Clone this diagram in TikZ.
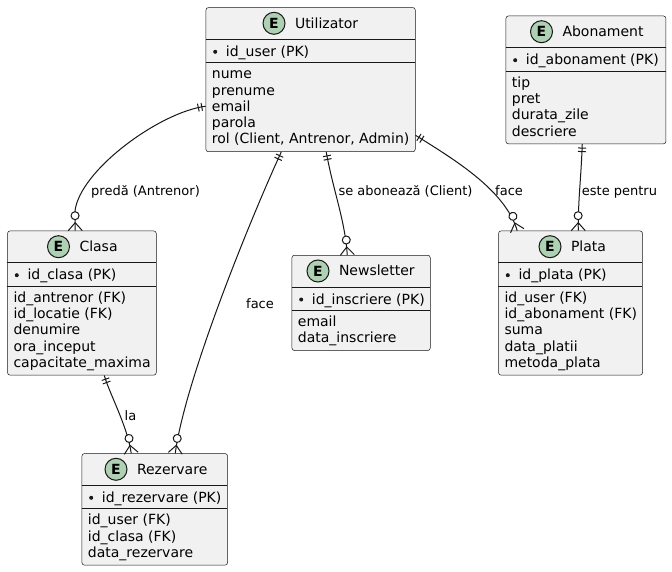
\documentclass[tikz,border=0pt]{standalone}
\usepackage{fontspec}
\setmainfont{DejaVu Sans}
\usetikzlibrary{decorations.markings}
\definecolor{erline}{HTML}{181818}
\definecolor{erfill}{HTML}{F1F1F1}
\definecolor{ercirc}{HTML}{ADD1B2}
\newcommand\ERtitlefont{\fontsize{14}{16}\selectfont}
\tikzset{
  conn/.style={draw=erline, line width=1pt},
  ebox/.style={draw=erline, line width=0.5pt, fill=erfill, rounded corners=2.5pt, inner sep=0pt, rectangle},
  hline/.style={draw=erline, line width=0.5pt},
  sepline/.style={draw=erline, line width=1pt},
  ecirc/.style={circle, draw=erline, line width=1pt, fill=ercirc, minimum size=22pt, inner sep=0pt, font=\bfseries\fontsize{14}{16}\selectfont},
  attr/.style={anchor=base west, inner sep=0pt, font=\ERtitlefont},
  lbl/.style={anchor=base west, inner sep=0pt, font=\fontsize{13}{15}\selectfont},
  rel/.style={conn, postaction={decorate, decoration={markings,
    mark=at position 4pt with {\draw[conn] (0pt,-4pt) -- (0pt,4pt);},
    mark=at position 7.5pt with {\draw[conn] (0pt,-4pt) -- (0pt,4pt);},
    mark=at position 0.9999 with {\draw[conn] (-8pt,0pt) -- (0pt,7pt) (-8pt,0pt) -- (0pt,-7pt);
      \draw[conn, fill=white] (-15pt,0pt) circle (4pt);}}}}
}
% #1 name, #2 x0, #3 y0, #4 width, #5 height, #6 title, #7 key, #8 circle x
\newcommand\ERentity[8]{%
  \node[ebox, minimum width=#4pt, minimum height=#5pt, anchor=north west] (#1) at (#2,#3) {};
  \draw[hline] (#2,#3+32) -- (#2+#4,#3+32);
  \draw[sepline] (#2,#3+55.5) -- (#2+#4,#3+55.5);
  \node[ecirc] (#1-e) at (#8,#3+16) {E};
  \node[attr] (#1-t) at (#8+20.8,#3+21) {#6};
  \fill[erline] (#2+9.5,#3+44.5) circle (2);
  \node[attr] (#1-pk) at (#2+20,#3+49) {#7};
}
% #1 name, #2 x0, #3 y0, #4 list
\newcommand\ERattrs[4]{%
  \foreach \attrtxt [count=\i] in {#4} {
    \node[attr] (#1-a\i) at (#2+6,#3+71.5+16.3*\i-16.3) {\attrtxt};
  }
}
\begin{document}
\begin{tikzpicture}[x=1pt,y=-1pt]
\useasboundingbox[fill=white] (0,0) rectangle (672,572);

\ERentity{util}{205.7}{7.3}{209.3}{144.2}{Utilizator}{id\_user (PK)}{274}
\ERattrs{util}{205.7}{7.3}{nume,prenume,email,parola,{rol (Client, Antrenor, Admin)}}

\ERentity{abon}{505.7}{15.7}{160}{127.9}{Abonament}{id\_abonament (PK)}{541.5}
\ERattrs{abon}{505.7}{15.7}{tip,pret,durata\_zile,descriere}

\ERentity{clasa}{7.3}{230.7}{148.7}{144.2}{Clasa}{id\_clasa (PK)}{58.5}
\ERattrs{clasa}{7.3}{230.7}{id\_antrenor (FK),id\_locatie (FK),denumire,ora\_inceput,capacitate\_maxima}

\ERentity{news}{291.7}{255}{138.3}{95.3}{Newsletter}{id\_inscriere (PK)}{318}
\ERattrs{news}{291.7}{255}{email,data\_inscriere}

\ERentity{plata}{498.3}{230.7}{144}{144.2}{Plata}{id\_plata (PK)}{550}
\ERattrs{plata}{498.3}{230.7}{id\_user (FK),id\_abonament (FK),suma,data\_platii,metoda\_plata}

\ERentity{rez}{81.7}{453.3}{145.6}{111.6}{Rezervare}{id\_rezervare (PK)}{116}
\ERattrs{rez}{81.7}{453.3}{id\_user (FK),id\_clasa (FK),data\_rezervare}

% connectors
\draw[rel] ([yshift=-26.6pt]util.west) .. controls (160,112) and (80,170) .. (75,211) -- ([xshift=-6.65pt]clasa.north);
\draw[rel] ([xshift=-29.35pt]util.south) .. controls (250,220) and (185,380) .. ([xshift=20.5pt]rez.north);
\draw[rel] ([xshift=15.65pt]util.south) .. controls (333,190) and (345,220) .. ([xshift=-13.85pt]news.north);
\draw[rel] ([yshift=-55.6pt]util.east) .. controls (455,160) and (505,190) .. ([xshift=-53.3pt]plata.north);
\draw[rel] ([xshift=-3.7pt]abon.south) .. controls (581,180) and (578,200) .. ([xshift=7.7pt]plata.north);
\draw[rel] ([xshift=22.35pt]clasa.south) .. controls (110,395) and (127,425) .. ([xshift=-23.5pt]rez.north);

% labels
\node[lbl] (l1) at (91,196) {predă (Antrenor)};
\node[lbl] (l2) at (246,308) {face};
\node[lbl] (l3) at (338.3,196) {se abonează (Client)};
\node[lbl] (l4) at (495,196) {face};
\node[lbl] (l5) at (581.7,196) {este pentru};
\node[lbl] (l6) at (124.5,420) {la};
\end{tikzpicture}
\end{document}
